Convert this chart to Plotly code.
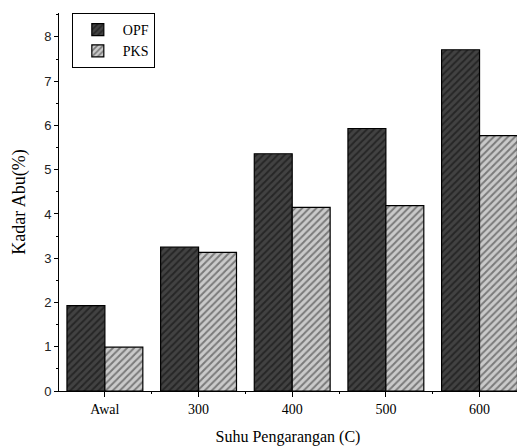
import plotly.graph_objects as go

categories = ["Awal", "300", "400", "500", "600"]
opf = [1.93, 3.25, 5.36, 5.93, 7.71]
pks = [0.99, 3.13, 4.15, 4.19, 5.77]
series_names = ["OPF", "PKS"]

xpos = list(range(len(categories)))

serif = "Liberation Serif"

fig = go.Figure()
fig.add_trace(go.Bar(
    x=xpos, y=opf, name=series_names[0],
    marker=dict(color="#404040", line=dict(color="black", width=1.2),
                pattern=dict(shape="/", size=5, solidity=0.4,
                             fgcolor="#0a0a0a", bgcolor="#424242", fillmode="overlay")),
))
fig.add_trace(go.Bar(
    x=xpos, y=pks, name=series_names[1],
    marker=dict(color="#c8c8c8", line=dict(color="black", width=1.2),
                pattern=dict(shape="/", size=5, solidity=0.4,
                             fgcolor="#2a2a2a", bgcolor="#cacaca", fillmode="overlay")),
))

fig.update_layout(
    width=517, height=448,
    margin=dict(l=59, r=0, t=13, b=57),
    paper_bgcolor="white", plot_bgcolor="white",
    barmode="group", bargap=0.19, bargroupgap=0,
    showlegend=True,
    legend=dict(x=0.028, y=1.0, xanchor="left", yanchor="top",
                bgcolor="white", bordercolor="black", borderwidth=1,
                font=dict(family=serif, size=14, color="black"),
                tracegroupgap=0, itemwidth=40),
    font=dict(family=serif, color="black"),
)

fig.update_xaxes(
    range=[-0.49, 4.40],
    tickmode="array", tickvals=xpos, ticktext=categories,
    showline=True, linecolor="black", linewidth=1,
    ticks="outside", ticklen=5, tickcolor="black",
    minor=dict(ticks="outside", ticklen=2, dtick=0.5, tick0=0.5, tickcolor="black"),
    showgrid=False, zeroline=False,
    tickfont=dict(family=serif, size=14, color="black"),
    title=dict(text="Suhu Pengarangan (C)", font=dict(family=serif, size=16, color="black"), standoff=15),
)
fig.update_yaxes(
    range=[0, 8.54],
    tickmode="linear", tick0=0, dtick=1,
    showline=True, linecolor="black", linewidth=1,
    ticks="outside", ticklen=4, tickcolor="black",
    minor=dict(ticks="outside", ticklen=2, dtick=0.5, tickcolor="black"),
    showgrid=False, zeroline=False,
    tickfont=dict(family="Liberation Sans", size=13, color="#222"),
    title=dict(text="Kadar Abu(%)", font=dict(family=serif, size=18, color="black"), standoff=13),
)

fig.write_html("out.html")
